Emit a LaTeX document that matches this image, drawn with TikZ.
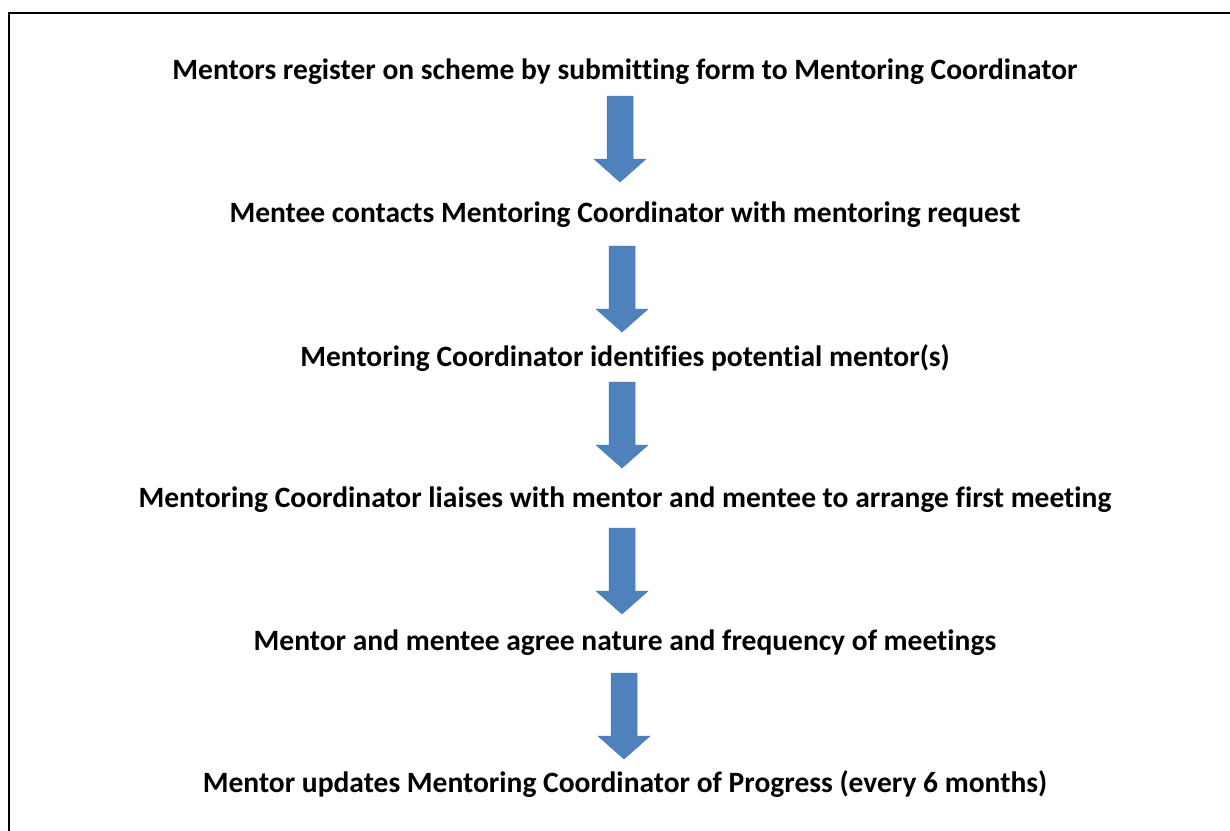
\documentclass[tikz,border=0pt]{standalone}
\usepackage{fontspec}
\setmainfont{Carlito}[Ligatures=NoCommon]
\begin{document}
\begin{tikzpicture}[x=1pt,y=-1pt,
  steptext/.style={anchor=base,inner sep=0pt,font=\fontsize{29.5}{32}\selectfont\bfseries},
  frameline/.style={line width=2.6pt,line cap=rect},
  pics/blockarrow/.style={code={
    \fill[arrowblue,draw=arrowedge,line width=0.5pt]
      (-13,0) -- (13,0) -- (13,63) -- (26,63) -- (0,86) -- (-26,63) -- (-13,63) -- cycle;
  }}]
\definecolor{arrowblue}{HTML}{4F81BD}
\definecolor{arrowedge}{HTML}{4A7EBB}
\useasboundingbox (0,0) rectangle (1230,830);
\fill[white] (0,0) rectangle (1230,830);

% frame: left and top edges
\draw[frameline] (9,830) -- (9,13) -- (1230,13);

% steps
\node[steptext] (s1) at (625,79) {Mentors register on scheme by submitting form to Mentoring Coordinator};
\node[steptext] (s2) at (625,222) {Mentee contacts Mentoring Coordinator with mentoring request};
\node[steptext] (s3) at (625,366) {Mentoring Coordinator identifies potential mentor(s)};
\node[steptext] (s4) at (625,507) {Mentoring Coordinator liaises with mentor and mentee to arrange first meeting};
\node[steptext] (s5) at (625,650) {Mentor and mentee agree nature and frequency of meetings};
\node[steptext] (s6) at (625,792) {Mentor updates Mentoring Coordinator of Progress (every 6 months)};

% block arrows between steps
\pic (a1) at (620,96) {blockarrow};
\pic (a2) at (622,246) {blockarrow};
\pic (a3) at (622,382) {blockarrow};
\pic (a4) at (622,528) {blockarrow};
\pic (a5) at (624,673) {blockarrow};
\end{tikzpicture}
\end{document}
